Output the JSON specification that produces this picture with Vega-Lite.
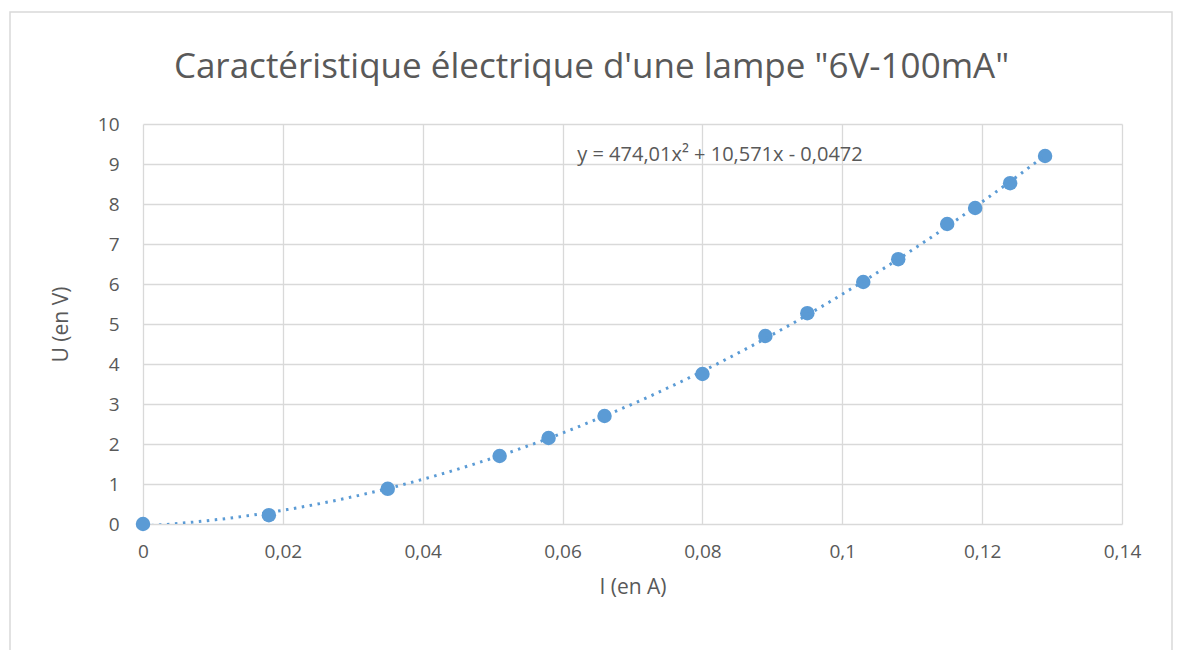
{
  "$schema": "https://vega.github.io/schema/vega-lite/v6.json",
  "width": 979,
  "height": 400,
  "autosize": {"type": "none"},
  "padding": {"left": 143, "top": 124, "right": 60, "bottom": 126},
  "background": "white",
  "config": {
    "view": {"stroke": null},
    "font": "Open Sans",
    "axis": {
      "gridColor": "#d9d9d9",
      "gridWidth": 1.3,
      "labelColor": "#595959",
      "titleColor": "#595959",
      "labelFontSize": 19,
      "titleFontSize": 21,
      "titleFontWeight": "normal",
      "ticks": false,
      "domain": false,
      "labelFont": "Open Sans",
      "titleFont": "Open Sans",
      "labelFlush": false
    }
  },
  "title": {
    "text": "Caractéristique électrique d'une lampe \"6V-100mA\"",
    "fontSize": 35,
    "fontWeight": "normal",
    "color": "#595959",
    "font": "Open Sans",
    "anchor": "middle",
    "offset": -74,
    "dx": -41
  },
  "data": {
    "values": [
      {"I": 0, "U": 0},
      {"I": 0.018, "U": 0.22},
      {"I": 0.035, "U": 0.88},
      {"I": 0.051, "U": 1.7},
      {"I": 0.058, "U": 2.15},
      {"I": 0.066, "U": 2.7},
      {"I": 0.080, "U": 3.75},
      {"I": 0.089, "U": 4.7},
      {"I": 0.095, "U": 5.27},
      {"I": 0.103, "U": 6.05},
      {"I": 0.108, "U": 6.62},
      {"I": 0.115, "U": 7.5},
      {"I": 0.119, "U": 7.9},
      {"I": 0.124, "U": 8.52},
      {"I": 0.129, "U": 9.2}
    ]
  },
  "layer": [
    {
      "mark": {"type": "circle", "color": "#5b9bd5", "size": 210, "opacity": 1},
      "encoding": {
        "x": {
          "field": "I",
          "type": "quantitative",
          "scale": {"domain": [0, 0.14], "nice": false, "zero": true},
          "axis": {
            "values": [0, 0.02, 0.04, 0.06, 0.08, 0.1, 0.12, 0.14],
            "labelExpr": "replace(format(datum.value, '.2~f'), '.', ',')",
            "title": "I (en A)",
            "labelPadding": 18,
            "titlePadding": 15
          }
        },
        "y": {
          "field": "U",
          "type": "quantitative",
          "scale": {"domain": [0, 10], "nice": false},
          "axis": {
            "values": [0, 1, 2, 3, 4, 5, 6, 7, 8, 9, 10],
            "title": "U (en V)",
            "labelPadding": 24,
            "titlePadding": 26
          }
        }
      }
    },
    {
      "transform": [
        {"regression": "U", "on": "I", "method": "poly", "order": 2, "extent": [0, 0.129]}
      ],
      "mark": {"type": "line", "color": "#5b9bd5", "strokeWidth": 3, "strokeDash": [2.5, 5.5], "clip": true},
      "encoding": {
        "x": {
          "field": "I",
          "type": "quantitative",
          "axis": {
            "values": [0, 0.02, 0.04, 0.06, 0.08, 0.1, 0.12, 0.14],
            "labelExpr": "replace(format(datum.value, '.2~f'), '.', ',')",
            "title": "I (en A)",
            "labelPadding": 18,
            "titlePadding": 15
          }
        },
        "y": {
          "field": "U",
          "type": "quantitative",
          "axis": {
            "values": [0, 1, 2, 3, 4, 5, 6, 7, 8, 9, 10],
            "title": "U (en V)",
            "labelPadding": 24,
            "titlePadding": 26
          }
        }
      }
    },
    {
      "data": {"values": [{"label": "y = 474,01x² + 10,571x - 0,0472"}]},
      "mark": {"type": "text", "align": "left", "baseline": "middle", "fontSize": 20, "fontWeight": "normal", "color": "#595959", "font": "Open Sans"},
      "encoding": {
        "x": {
          "datum": 0.0621,
          "type": "quantitative",
          "axis": {
            "values": [0, 0.02, 0.04, 0.06, 0.08, 0.1, 0.12, 0.14],
            "labelExpr": "replace(format(datum.value, '.2~f'), '.', ',')",
            "title": "I (en A)",
            "labelPadding": 18,
            "titlePadding": 15
          }
        },
        "y": {
          "datum": 9.22,
          "type": "quantitative",
          "axis": {
            "values": [0, 1, 2, 3, 4, 5, 6, 7, 8, 9, 10],
            "title": "U (en V)",
            "labelPadding": 24,
            "titlePadding": 26
          }
        },
        "text": {"field": "label"}
      }
    },
    {
      "data": {"values": [{"frame": 1}]},
      "mark": {"type": "rect", "fill": null, "stroke": "#d9d9d9", "strokeWidth": 1.5, "clip": false},
      "encoding": {
        "x": {
          "datum": -0.01902,
          "type": "quantitative",
          "axis": {
            "values": [0, 0.02, 0.04, 0.06, 0.08, 0.1, 0.12, 0.14],
            "labelExpr": "replace(format(datum.value, '.2~f'), '.', ',')",
            "title": "I (en A)",
            "labelPadding": 18,
            "titlePadding": 15
          }
        },
        "x2": {"datum": 0.14715},
        "y": {
          "datum": 12.8,
          "type": "quantitative",
          "axis": {
            "values": [0, 1, 2, 3, 4, 5, 6, 7, 8, 9, 10],
            "title": "U (en V)",
            "labelPadding": 24,
            "titlePadding": 26
          }
        },
        "y2": {"datum": -3.2}
      }
    }
  ]
}
